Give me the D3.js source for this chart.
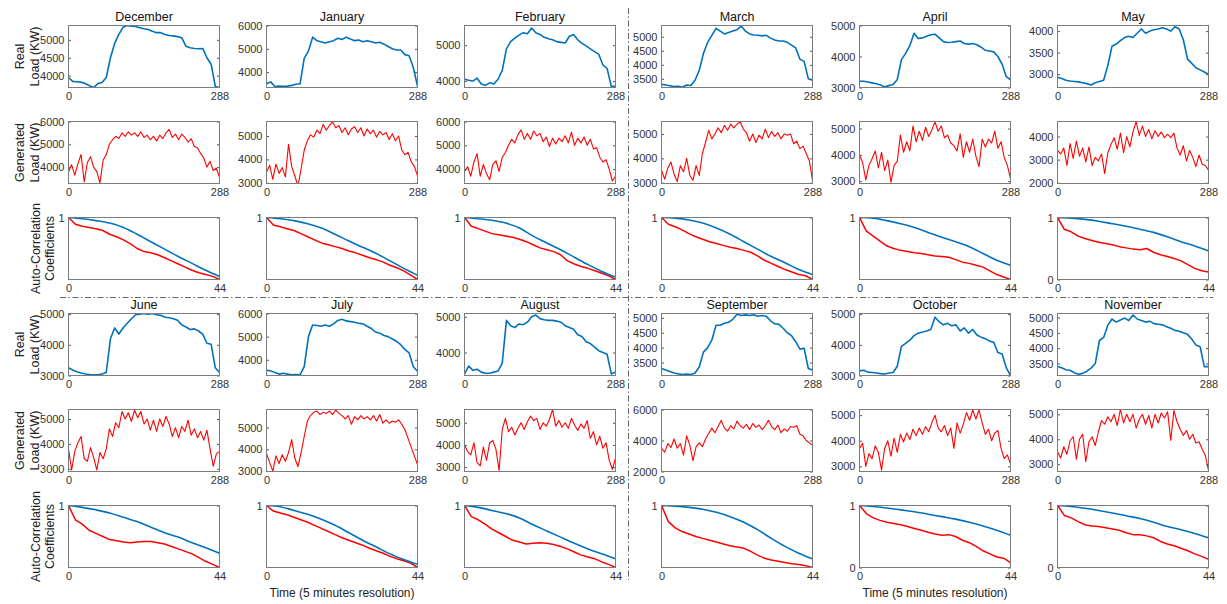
<!DOCTYPE html>
<html>
<head>
<meta charset="utf-8">
<script src="https://cdn.jsdelivr.net/npm/d3@7"></script>
<style>
  body { margin: 0; background: #fff; }
  svg { display: block; font-family: "Liberation Sans", Arial, sans-serif; }
</style>
</head>
<body>
<svg id="chart" width="1227" height="604"></svg>
<script>
// monthly load profiles, real vs generated, plus their auto-correlation

const months = ["December", "January", "February", "March", "April", "May",
  "June", "July", "August", "September", "October", "November"];

// y limits and ticks of each panel (kW)
const realLims = [[3670, 5400], [3340, 6000], [3820, 5550], [3190, 5400], [3000, 5000], [2690, 4130],
  [3000, 5020], [3320, 6000], [3355, 5093], [3065, 5145], [3000, 5020], [3110, 5130]];
const realTicks = [[4000, 4500, 5000], [4000, 5000, 6000], [4000, 5000], [3500, 4000, 4500, 5000],
  [3000, 4000, 5000], [3000, 3500, 4000], [3000, 4000, 5000], [4000, 5000, 6000], [4000, 5000],
  [3500, 4000, 4500, 5000], [3000, 4000, 5000], [3500, 4000, 4500, 5000]];
const genLims = [[3280, 6000], [2970, 5620], [3395, 6000], [2970, 5510], [2910, 5270], [1970, 4650],
  [2890, 5380], [2980, 5830], [2800, 5600], [2000, 6000], [2800, 5220], [2710, 5190]];
const genTicks = [[4000, 5000, 6000], [3000, 4000, 5000], [4000, 5000, 6000], [3000, 4000, 5000],
  [3000, 4000, 5000], [2000, 3000, 4000], [3000, 4000, 5000], [3000, 4000, 5000], [3000, 4000, 5000],
  [2000, 4000, 6000], [3000, 4000, 5000], [3000, 4000, 5000]];
const acLow = [0.2, 0.2, 0.2, 0.2, 0.2, 0, 0.2, 0.2, 0.2, 0.2, 0, 0];
const acTicks = [0, 1];

// real load, sampled every 8 steps of 5 min (0..288)
const realLoad = [
  [3950,3840,3830,3820,3780,3720,3670,3780,3810,3950,4500,4900,5150,5350,5400,5380,5370,5340,5310,5290,5240,5200,5200,5150,5120,5110,5090,5060,4820,4780,4760,4750,4760,4500,4320,3700,3670],
  [3500,3580,3380,3400,3390,3400,3430,3480,3500,4600,4900,5500,5350,5300,5250,5300,5350,5450,5400,5500,5420,5350,5380,5300,5350,5300,5250,5280,5200,5100,5000,4950,4950,4750,4700,4200,3400],
  [4050,4020,4000,4080,3920,3880,3950,3920,4050,4300,4900,5100,5200,5280,5350,5320,5480,5350,5300,5220,5180,5150,5100,5080,5060,5250,5300,5150,5050,4980,4900,4820,4750,4450,4350,3850,3860],
  [3300,3280,3250,3220,3230,3200,3280,3260,3450,3800,4400,4800,5050,5300,5200,5100,5150,5200,5250,5380,5200,5100,5060,5050,5030,5050,4950,4880,4850,4850,4800,4700,4600,4200,4120,3500,3450],
  [3200,3200,3180,3150,3120,3080,3020,3060,3100,3250,3900,4100,4350,4750,4580,4600,4650,4700,4720,4600,4480,4450,4460,4480,4500,4420,4400,4420,4380,4300,4200,4180,4150,4000,3750,3350,3250],
  [2930,2900,2860,2840,2830,2820,2800,2780,2750,2800,2830,2860,3200,3650,3700,3780,3850,3880,3850,3950,4050,3950,4000,4030,4050,4080,4050,4000,4100,4050,3800,3350,3250,3150,3100,3050,3000],
  [3250,3180,3120,3080,3050,3030,3020,3020,3050,3100,4200,4550,4350,4550,4700,4850,4980,5000,5020,5000,5020,4980,4960,4900,4880,4850,4800,4650,4580,4500,4520,4450,4350,4050,4020,3250,3100],
  [3550,3520,3450,3380,3420,3380,3350,3360,3350,3700,5000,5500,5480,5450,5500,5450,5550,5700,5750,5680,5650,5620,5580,5550,5450,5350,5200,5150,5050,5000,4900,4800,4650,4450,4300,3700,3500],
  [3400,3620,3500,3530,3450,3420,3420,3450,3480,3700,4900,4750,4700,4800,4780,4850,5000,5050,4950,4920,4900,4900,4880,4850,4750,4700,4650,4500,4450,4300,4250,4150,4050,4000,3950,3400,3450],
  [3300,3250,3200,3150,3120,3100,3110,3100,3150,3350,3850,4000,4250,4750,4750,4820,4850,4950,5120,5080,5100,5080,5100,5050,5080,5050,4900,4800,4780,4650,4500,4400,4200,3950,3980,3300,3250],
  [3150,3170,3110,3100,3080,3060,3050,3080,3100,3300,3950,4050,4150,4300,4380,4420,4450,4500,4900,4750,4650,4700,4620,4650,4450,4550,4380,4500,4320,4250,4200,4120,4080,3750,3700,3250,3000],
  [3400,3360,3300,3280,3200,3150,3180,3250,3350,3500,4250,4350,4750,4950,4850,4920,4980,4900,5080,4950,4900,4850,4880,4800,4780,4760,4700,4650,4580,4550,4500,4450,4300,4100,4050,3400,3400]
];

// generated load, sampled every 6 steps (0..288)
const genLoad = [
  [3800,4100,3650,4150,4550,3350,4200,4450,4000,3800,3300,4300,4550,5000,5200,5350,5250,5500,5350,5550,5400,5500,5350,5550,5300,5400,5200,5350,5150,5400,5250,5500,5650,5300,5450,5200,5450,5300,5100,5250,4900,4850,4600,4400,4000,4250,3850,3950,3550],
  [3450,3750,3150,3800,3400,3650,3250,4650,3700,3300,2850,3600,4400,4800,5050,4950,5250,5100,5500,5250,5450,5600,5350,5450,5150,5350,5050,5300,5400,5150,5350,5000,5300,5100,5250,4950,5200,5050,5150,4850,5100,4800,5000,4400,4200,4300,3900,3700,3300],
  [3900,4100,3700,4300,4650,3700,4200,3800,3550,4200,4350,3900,4500,4700,5000,5250,5100,5450,5650,5250,5500,5250,5600,5400,5500,5150,5350,4950,5300,5050,5300,5150,5400,5100,5550,5000,5300,5100,5350,5000,5250,4850,4900,4500,4300,4400,4000,3500,3700],
  [3500,3150,3600,3850,3350,3050,3700,3450,4000,3300,3100,3700,3300,4200,4650,5150,4800,5000,5250,5050,5350,5150,5400,5250,5400,5500,5200,5050,4700,5000,4650,4950,4800,5200,4850,5100,4900,5050,4800,5000,4950,5000,4600,4700,4400,4500,4200,3900,3100],
  [4000,3700,3050,3600,3850,4150,3500,4100,3400,3800,2950,3600,3750,4750,4100,4500,4150,5100,4500,4900,4550,5050,4700,4950,5250,4900,5100,4650,4750,4450,4350,4150,4800,3900,4500,4100,4600,3950,3550,4600,4300,4600,4450,4900,4250,4500,3900,3600,3100],
  [3400,3250,3500,2750,3700,3050,3800,3150,3500,2900,3550,2750,3100,2950,3250,2400,3300,3650,3950,3450,4150,3300,4000,3550,4200,4650,4050,4450,4000,4300,3900,4250,4000,4200,3950,4100,3950,4150,3500,3200,3600,2950,3400,3100,2700,3200,2800,2750,2550],
  [3800,2950,3700,4050,4300,3400,3300,3850,3450,2950,3650,3400,3800,4600,4300,4850,4650,5300,5000,5250,4900,5350,5050,5300,4800,5000,4550,4950,4500,5000,4700,5100,4800,4300,4650,4250,4700,4500,4950,4350,4600,4250,4500,4150,4550,3800,3100,3600,3700],
  [3800,3400,3000,3700,3350,3750,3450,3850,4450,3600,3200,3850,4600,5300,5550,5700,5750,5600,5700,5650,5750,5600,5800,5650,5550,5400,5550,5150,5500,5350,5550,5400,5500,5350,5550,5300,5600,5200,5350,5200,5300,5250,5350,5150,4900,4500,4100,3700,3300],
  [4000,3700,3550,4100,3200,3050,3900,3300,4100,4200,3800,2850,4700,5200,4600,4800,4450,4750,5000,4700,5050,5300,5100,5200,4700,5000,4850,5150,5600,4850,5100,4800,5000,4750,5200,4900,4650,4950,4750,5100,4300,4600,4000,4400,3850,4100,3300,2900,3400],
  [3500,3250,3800,3550,4100,3500,3800,3050,4300,3700,2700,3600,3850,3600,4100,4450,4800,4500,4900,5300,4800,4600,4950,4750,5250,4950,4800,5050,4700,5100,4850,5000,4700,4950,5300,4900,4700,5000,4500,4750,4600,4900,4850,4950,4400,4300,4000,3850,3700],
  [3700,3900,3000,3500,3300,3800,3550,2850,3700,4000,3400,4100,3550,4250,3950,4300,4050,4450,4200,4500,4250,4550,4350,4700,5000,4500,4350,4600,4200,4500,3700,4700,4300,4650,5100,4800,5200,4850,5200,4700,4250,4450,4000,4300,4400,3700,3300,3450,3100],
  [3500,3250,3700,3400,3950,4100,3200,4000,4200,3100,3900,4100,3750,4300,4750,4600,4900,4700,5000,4550,5200,4650,5000,4700,5000,4450,4800,5000,4600,4950,4450,5000,4650,5050,4850,5100,3950,5150,4700,4400,4150,4350,4000,4200,3850,3900,3600,3350,2750]
];

// auto-correlation coefficients of the real load, lags 0,4,...,44
const acReal = [
  [1,0.984,0.96,0.928,0.872,0.784,0.688,0.592,0.496,0.408,0.32,0.24],
  [1,0.984,0.96,0.92,0.864,0.784,0.696,0.616,0.536,0.44,0.344,0.256],
  [1,0.984,0.964,0.928,0.864,0.76,0.672,0.584,0.488,0.392,0.304,0.232],
  [1,0.992,0.968,0.928,0.864,0.784,0.688,0.592,0.496,0.416,0.328,0.264],
  [1,0.992,0.96,0.92,0.872,0.808,0.744,0.688,0.624,0.536,0.448,0.384],
  [1,0.99,0.97,0.94,0.9,0.86,0.81,0.76,0.69,0.61,0.54,0.46],
  [1,0.976,0.944,0.904,0.848,0.792,0.72,0.648,0.592,0.52,0.456,0.384],
  [1,0.984,0.936,0.888,0.824,0.744,0.648,0.552,0.464,0.376,0.304,0.24],
  [1,0.976,0.936,0.896,0.84,0.752,0.672,0.592,0.512,0.44,0.376,0.312],
  [1,0.992,0.976,0.952,0.912,0.856,0.784,0.688,0.576,0.472,0.384,0.312],
  [1,0.985,0.96,0.93,0.9,0.86,0.82,0.78,0.73,0.67,0.6,0.52],
  [1,0.985,0.955,0.92,0.88,0.835,0.79,0.73,0.66,0.61,0.55,0.48]
];

// auto-correlation coefficients of the generated load, lags 0,2,...,44
const acGen = [
  [1,0.912,0.888,0.872,0.856,0.832,0.784,0.752,0.712,0.664,0.6,0.56,0.544,0.52,0.48,0.44,0.4,0.36,0.32,0.288,0.264,0.24,0.2],
  [1,0.904,0.88,0.856,0.832,0.792,0.752,0.712,0.672,0.648,0.624,0.6,0.568,0.544,0.512,0.48,0.456,0.424,0.384,0.352,0.312,0.256,0.2],
  [1,0.888,0.856,0.824,0.792,0.776,0.76,0.744,0.72,0.688,0.648,0.608,0.584,0.56,0.52,0.44,0.4,0.368,0.344,0.312,0.28,0.248,0.2],
  [1,0.912,0.88,0.84,0.792,0.752,0.72,0.688,0.664,0.64,0.616,0.6,0.576,0.552,0.504,0.448,0.408,0.368,0.328,0.296,0.264,0.248,0.2],
  [1,0.824,0.76,0.696,0.632,0.6,0.576,0.56,0.544,0.536,0.52,0.504,0.496,0.488,0.456,0.424,0.408,0.384,0.36,0.312,0.264,0.232,0.2],
  [1,0.81,0.77,0.7,0.66,0.63,0.6,0.58,0.56,0.53,0.51,0.49,0.48,0.5,0.44,0.4,0.37,0.34,0.3,0.24,0.18,0.14,0.12],
  [1,0.816,0.76,0.68,0.64,0.6,0.56,0.544,0.528,0.52,0.528,0.536,0.536,0.52,0.504,0.472,0.44,0.408,0.376,0.328,0.28,0.24,0.2],
  [1,0.928,0.904,0.88,0.848,0.816,0.784,0.744,0.704,0.664,0.624,0.584,0.552,0.52,0.488,0.448,0.416,0.384,0.344,0.312,0.288,0.256,0.2],
  [1,0.856,0.816,0.76,0.696,0.648,0.6,0.552,0.528,0.504,0.512,0.52,0.512,0.496,0.472,0.44,0.4,0.36,0.336,0.312,0.272,0.24,0.2],
  [1,0.792,0.712,0.664,0.632,0.6,0.576,0.552,0.528,0.504,0.48,0.464,0.448,0.408,0.36,0.32,0.296,0.28,0.264,0.248,0.24,0.224,0.2],
  [1,0.87,0.8,0.76,0.73,0.71,0.69,0.66,0.63,0.6,0.57,0.54,0.52,0.53,0.5,0.44,0.4,0.34,0.27,0.22,0.17,0.15,0.08],
  [1,0.84,0.8,0.74,0.69,0.67,0.66,0.64,0.62,0.6,0.56,0.53,0.53,0.51,0.48,0.42,0.38,0.35,0.31,0.27,0.22,0.18,0.13]
];

const BLUE = "#0072bd", RED = "#ff0000";
const pw = 151, ph = 62;
const colLeft = d3.range(6).map((i) => Math.round(68 + i * 197.8) + 0.5);
const rowTop = [25.5, 121.5, 217.5, 313.5, 409.5, 505.5];

const svg = d3.select("#chart");
svg.append("defs").append("clipPath").attr("id", "pclip")
  .append("rect").attr("width", pw).attr("height", ph);

function drawPanel(col, row, o) {
  const g = svg.append("g").attr("transform", `translate(${colLeft[col]},${rowTop[row]})`);
  const x = d3.scaleLinear().domain(o.xDomain).range([0, pw]);
  const y = d3.scaleLinear().domain(o.yDomain).range([ph, 0]);
  const yt = o.yTicks.filter((t) => t >= o.yDomain[0] - 1e-9 && t <= o.yDomain[1] + 1e-9);

  const left = g.append("g")
    .call(d3.axisLeft(y).tickValues(yt).tickSizeInner(-2.5).tickSizeOuter(0).tickPadding(4).tickFormat(d3.format("d")));
  const right = g.append("g").attr("transform", `translate(${pw},0)`)
    .call(d3.axisRight(y).tickValues(yt).tickSizeInner(-2.5).tickSizeOuter(0).tickFormat(""));
  const bottom = g.append("g").attr("transform", `translate(0,${ph})`)
    .call(d3.axisBottom(x).tickValues(o.xDomain).tickSize(0).tickPadding(5));
  [left, right, bottom].forEach((a) => {
    a.select(".domain").remove();
    a.selectAll("line").attr("stroke", "#555");
    a.selectAll("text").attr("fill", "#333").style("font-size", "11px").style("font-family", "inherit");
  });

  const lines = g.append("g").attr("clip-path", "url(#pclip)");
  o.series.forEach((s) => {
    lines.append("path")
      .datum(s.values.map((v, i) => [s.xs[i], v]))
      .attr("fill", "none")
      .attr("stroke", s.color)
      .attr("stroke-width", s.width)
      .attr("stroke-linejoin", "round")
      .attr("d", d3.line().x((d) => x(d[0])).y((d) => y(d[1])).curve(s.curve || d3.curveLinear));
  });

  g.append("rect").attr("width", pw).attr("height", ph)
    .attr("fill", "none").attr("stroke", "#7c7c7c").attr("stroke-width", 1);

  if (o.title) {
    g.append("text").attr("x", pw / 2).attr("y", -5).attr("text-anchor", "middle")
      .style("font-size", "12.5px").attr("fill", "#111").text(o.title);
  }
}

const realSteps = d3.range(0, 289, 8);
const genSteps = d3.range(0, 289, 6);
const lagBlue = d3.range(0, 45, 4);
const lagRed = d3.range(0, 45, 2);

months.forEach((m, i) => {
  const col = i % 6;
  const block = i < 6 ? 0 : 3;
  drawPanel(col, block, {
    title: m, xDomain: [0, 288], yDomain: realLims[i], yTicks: realTicks[i],
    series: [{ xs: realSteps, values: realLoad[i], color: BLUE, width: 1.6 }]
  });
  drawPanel(col, block + 1, {
    xDomain: [0, 288], yDomain: genLims[i], yTicks: genTicks[i],
    series: [{ xs: genSteps, values: genLoad[i], color: RED, width: 1.1 }]
  });
  drawPanel(col, block + 2, {
    xDomain: [0, 44], yDomain: [acLow[i], 1], yTicks: acTicks,
    series: [
      { xs: lagRed, values: acGen[i], color: RED, width: 1.5 },
      { xs: lagBlue, values: acReal[i], color: BLUE, width: 1.6, curve: d3.curveMonotoneX }
    ]
  });
});

// y labels on the first column
const ylab = [
  { row: 0, lines: ["Real", "Load (KW)"], xs: [20, 35] },
  { row: 1, lines: ["Generated", "Load (KW)"], xs: [20, 35] },
  { row: 2, lines: ["Auto-Correlation", "Coefficients"], xs: [36, 50] },
  { row: 3, lines: ["Real", "Load (KW)"], xs: [20, 35] },
  { row: 4, lines: ["Generated", "Load (KW)"], xs: [20, 35] },
  { row: 5, lines: ["Auto-Correlation", "Coefficients"], xs: [36, 50] }
];
ylab.forEach((l) => {
  const cy = rowTop[l.row] + ph / 2;
  l.lines.forEach((t, j) => {
    svg.append("text")
      .attr("transform", `translate(${l.xs[j]},${cy}) rotate(-90)`)
      .attr("text-anchor", "middle").attr("dominant-baseline", "central")
      .style("font-size", "12.5px").attr("fill", "#222").text(t);
  });
});

// x labels
[1, 4].forEach((c) => {
  svg.append("text").attr("x", colLeft[c] + pw / 2).attr("y", 597)
    .attr("text-anchor", "middle").style("font-size", "12px").attr("fill", "#222")
    .text("Time (5 minutes resolution)");
});

// dash-dot separators
svg.append("line").attr("x1", 60).attr("x2", 1213).attr("y1", 297.5).attr("y2", 297.5)
  .attr("stroke", "#666").attr("stroke-width", 1).attr("stroke-dasharray", "6,2.5,1.5,2.5");
svg.append("line").attr("x1", 628.5).attr("x2", 628.5).attr("y1", 8).attr("y2", 580)
  .attr("stroke", "#666").attr("stroke-width", 1).attr("stroke-dasharray", "6,2.5,1.5,2.5");
</script>
</body>
</html>
